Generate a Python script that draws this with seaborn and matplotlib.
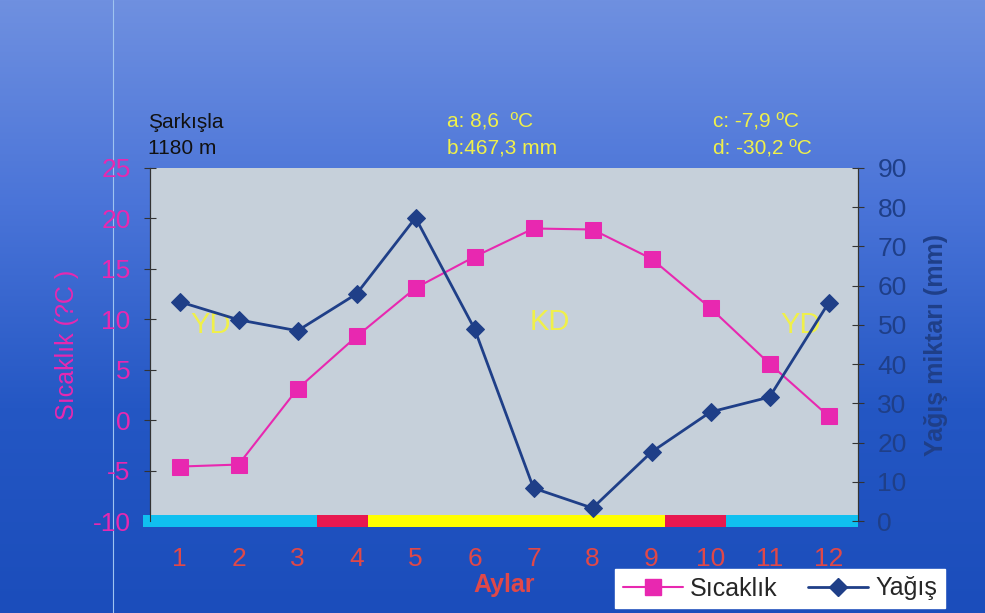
import matplotlib.pyplot as plt
import seaborn as sns
import numpy as np
from matplotlib.colors import LinearSegmentedColormap
from matplotlib.lines import Line2D

# Monthly climate data for Sarkisla (1180 m)
months = list(range(1, 13))
temperature = [-4.6, -4.4, 3.1, 8.3, 13.1, 16.2, 19.0, 18.9, 16.0, 11.1, 5.6, 0.4]
precipitation = [55.9, 51.3, 48.5, 57.9, 77.3, 49.0, 8.4, 3.3, 17.6, 27.8, 31.6, 55.6]

# Period strip under the chart (start, end in month units, colour)
period_starts = [0.38, 3.33, 4.19, 9.23, 10.26]
period_ends = [3.33, 4.19, 9.23, 10.26, 12.5]
period_colors = ["#10c0f0", "#e81850", "#ffff00", "#e81850", "#10c0f0"]

sns.set_style("white")
plt.rcParams['font.family'] = ['Liberation Sans', 'DejaVu Sans']
plt.rcParams['axes.unicode_minus'] = False

pink = "#e828b0"
navy = "#1f3f88"
yellow = "#f0f04a"

fig = plt.figure(figsize=(9.85, 6.13), dpi=100)

# blue gradient background
bg = fig.add_axes([0, 0, 1, 1], zorder=-10)
cmap = LinearSegmentedColormap.from_list("bg", ["#6f90e0", "#4a74d8", "#2457c4", "#1b4dbb"])
grad = np.linspace(0, 1, 256).reshape(-1, 1)
bg.imshow(grad, aspect="auto", cmap=cmap, extent=[0, 1, 0, 1])
bg.axvline(0.115, color="#9fc4f0", lw=0.8)
bg.set_axis_off()

ax = fig.add_axes([0.1523, 0.150, 0.7188, 0.576])
ax.set_facecolor("#c6d0da")
ax2 = ax.twinx()

sns.lineplot(x=months, y=temperature, ax=ax, color=pink, marker="s", markersize=11,
             markeredgecolor=pink, linewidth=1.5, zorder=3)
sns.lineplot(x=months, y=precipitation, ax=ax2, color=navy, marker="D", markersize=9.5,
             markeredgecolor=navy, linewidth=2.0, zorder=3)

ax.set_xlim(0.5, 12.5)
ax.set_ylim(-10, 25)
ax2.set_ylim(0, 90)
ax.set_yticks(range(-10, 30, 5))
ax2.set_yticks(range(0, 100, 10))
ax.set_xticks(months)

for s, e, c in zip(period_starts, period_ends, period_colors):
    ax.broken_barh([(s, e - s)], (-10.6, 1.2), facecolors=c, edgecolors="none",
                   clip_on=False, zorder=5)

ax.tick_params(axis="y", labelcolor=pink, labelsize=19, direction="inout", length=8, width=0.8,
               color="#333333", pad=10)
ax.tick_params(axis="x", labelcolor="#e04848", labelsize=19, length=0, pad=19)
ax2.tick_params(axis="y", labelcolor=navy, labelsize=19, direction="inout", length=8, width=0.8,
                color="#333333", pad=10)

for a in (ax, ax2):
    for side in ("top", "bottom"):
        a.spines[side].set_visible(False)
    a.spines["left"].set_color("#333333")
    a.spines["right"].set_color("#333333")

ax.set_xlabel("Aylar", color="#e04848", fontsize=18, fontweight="bold")
ax.xaxis.set_label_coords(0.50, -0.148)
ax.set_ylabel("Sıcaklık (?C )", color=pink, fontsize=18, labelpad=10)
ax2.set_ylabel("Yağış miktarı (mm)", color=navy, fontsize=18, fontweight="bold", labelpad=12)

# period labels inside the plot
ax.text(1.52, 9.4, "YD", color=yellow, fontsize=21, ha="center", va="center", zorder=6)
ax.text(7.28, 9.7, "KD", color=yellow, fontsize=21, ha="center", va="center", zorder=6)
ax.text(11.52, 9.4, "YD", color=yellow, fontsize=21, ha="center", va="center", zorder=6)

# station info
fig.text(148 / 985, 1 - 122 / 613, "Şarkışla", fontsize=15, color="#111111", va="center")
fig.text(148 / 985, 1 - 148 / 613, "1180 m", fontsize=15, color="#111111", va="center")
fig.text(447 / 985, 1 - 122 / 613, "a: 8,6  ºC", fontsize=15, color=yellow, va="center")
fig.text(447 / 985, 1 - 148 / 613, "b:467,3 mm", fontsize=15, color=yellow, va="center")
fig.text(713 / 985, 1 - 122 / 613, "c: -7,9 ºC", fontsize=15, color=yellow, va="center")
fig.text(713 / 985, 1 - 148 / 613, "d: -30,2 ºC", fontsize=15, color=yellow, va="center")

handles = [
    Line2D([], [], color=pink, marker="s", markersize=11, linewidth=1.5),
    Line2D([], [], color=navy, marker="D", markersize=9.5, linewidth=2.0),
]
leg = fig.legend(handles, ["Sıcaklık", "Yağış"], loc="lower left",
                 bbox_to_anchor=(615 / 985, 5 / 613), borderaxespad=0, ncol=2, fontsize=18,
                 frameon=True, fancybox=False, handlelength=2.4, columnspacing=1.2,
                 borderpad=0.3, handletextpad=0.3)
leg.get_frame().set_facecolor("white")
leg.get_frame().set_edgecolor("white")
leg.get_frame().set_alpha(1)

fig.savefig("out.png", dpi=100)
